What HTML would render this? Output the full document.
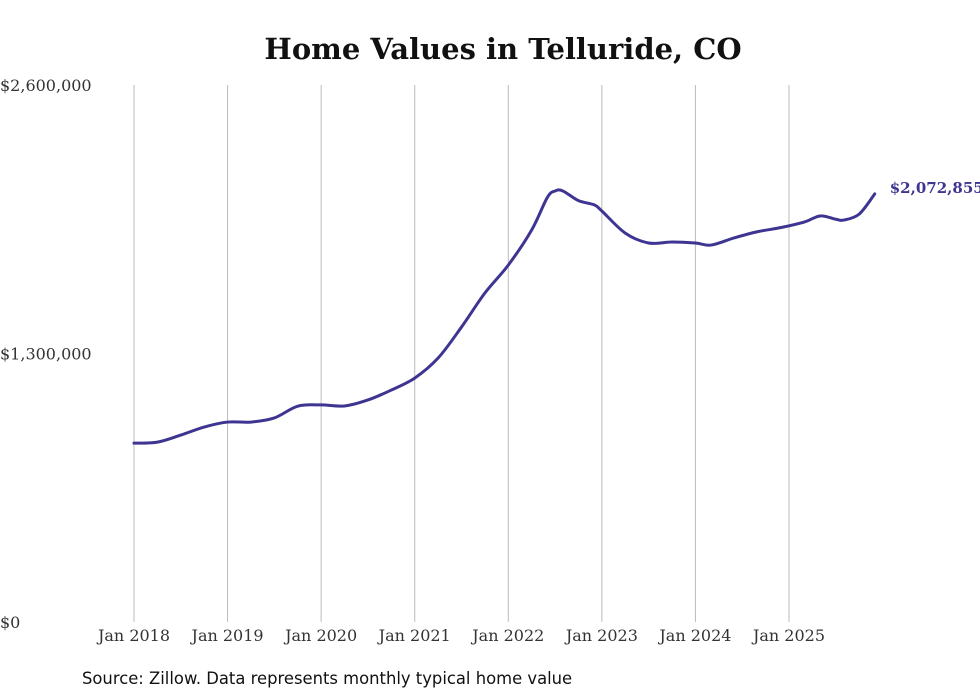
<!DOCTYPE html>
<html><head><meta charset="utf-8"><style>
body{margin:0;background:#fff;}
svg{display:block;}
</style></head><body>
<svg id="chart" width="980" height="699" xmlns="http://www.w3.org/2000/svg">
<text x="503" y="59" text-anchor="middle" font-family="DejaVu Serif, serif" font-weight="bold" font-size="29" fill="#111">Home Values in Telluride, CO</text>
<g id="grid"></g>
<g id="yaxis"></g>
<g id="xaxis"></g>
<g id="series"></g>
<text x="82" y="684" font-family="DejaVu Sans, sans-serif" font-size="16.4" fill="#111">Source: Zillow. Data represents monthly typical home value</text>
</svg>
<script>
const months=[0,3,6,9,12,15,18,21,24,27,30,33,36,39,42,45,48,51,53,54,55,57,59,60,63,66,69,72,74,77,80,83,86,88,90,91,93,95];
const values=[866000,871000,905000,944000,968000,968000,988000,1045000,1051000,1046000,1075000,1123000,1181000,1278000,1428000,1593000,1728000,1898000,2055000,2087000,2087000,2040000,2020000,1990000,1883000,1835000,1840000,1835000,1825000,1860000,1890000,1910000,1937000,1966000,1950000,1946000,1975000,2072855];
const yTicks=[0,1300000,2600000];
const yTickLabels=["$0","$1,300,000","$2,600,000"];
const xTickMonths=[0,12,24,36,48,60,72,84];
const xTickLabels=["Jan 2018","Jan 2019","Jan 2020","Jan 2021","Jan 2022","Jan 2023","Jan 2024","Jan 2025"];
const lastLabel="$2,072,855";

const NS="http://www.w3.org/2000/svg";
const x=m=>134+m*(93.57/12);
const y=v=>622-v/2600000*537;
function mk(tag,attrs,parent){const e=document.createElementNS(NS,tag);for(const k in attrs)e.setAttribute(k,attrs[k]);parent.appendChild(e);return e;}
const grid=document.getElementById('grid'),ya=document.getElementById('yaxis'),xa=document.getElementById('xaxis'),se=document.getElementById('series');
xTickMonths.forEach((m,i)=>{
  const l=mk('line',{x1:x(m),x2:x(m),y1:y(2600000),y2:y(0),stroke:'#bbb','stroke-width':1},grid);
  
  
  const t=mk('text',{x:x(m),y:641,'text-anchor':'middle','font-family':'DejaVu Serif, serif','font-size':16,fill:'#333'},xa);
  t.textContent=xTickLabels[i];
  
  
});
yTicks.forEach((v,i)=>{
  const t=mk('text',{x:0,y:y(v)+6,'font-family':'DejaVu Serif, serif','font-size':16,fill:'#333'},ya);
  t.textContent=yTickLabels[i];
  
  
});
const pts=months.map((m,i)=>[x(m),y(values[i])]);
let d='M'+pts[0][0]+','+pts[0][1];
for(let i=0;i<pts.length-1;i++){
  const p0=pts[i-1]||pts[i],p1=pts[i],p2=pts[i+1],p3=pts[i+2]||p2;
  const c1=[p1[0]+(p2[0]-p0[0])/6,p1[1]+(p2[1]-p0[1])/6];
  const c2=[p2[0]-(p3[0]-p1[0])/6,p2[1]-(p3[1]-p1[1])/6];
  d+=`C${c1[0]},${c1[1]} ${c2[0]},${c2[1]} ${p2[0]},${p2[1]}`;
}
const path=mk('path',{d:d,fill:'none',stroke:'#3d3591','stroke-width':3,'stroke-linejoin':'round','stroke-linecap':'round'},se);


const lp=pts[pts.length-1];
const lt=mk('text',{x:lp[0]+15,y:lp[1]-1,'font-family':'DejaVu Serif, serif','font-weight':'bold','font-size':15,fill:'#3d3591'},se);
lt.textContent=lastLabel;


</script>
</body></html>
